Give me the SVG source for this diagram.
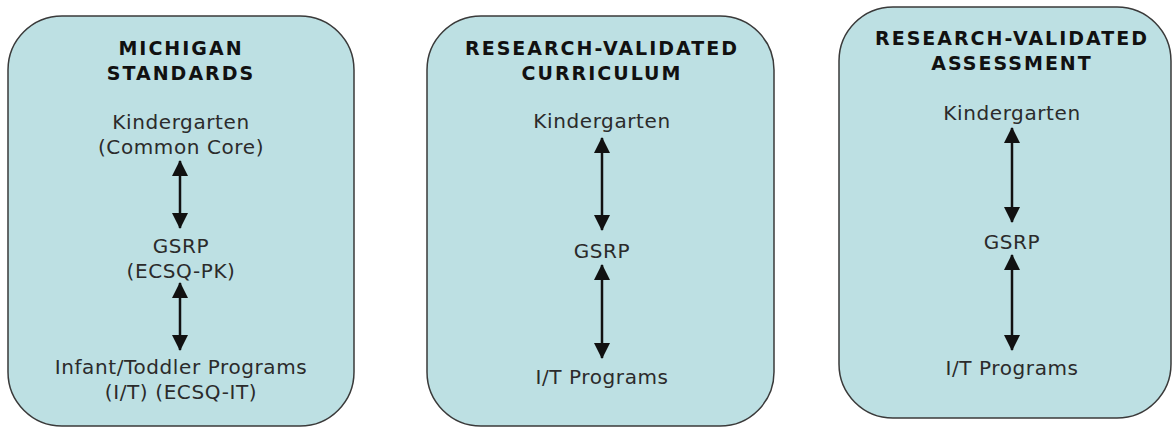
<svg xmlns="http://www.w3.org/2000/svg" width="1176" height="428" viewBox="0 0 1176 428">
<defs>
<marker id="ah" viewBox="0 0 16 16" refX="15" refY="8" markerWidth="16" markerHeight="16" markerUnits="userSpaceOnUse" orient="auto-start-reverse">
<path d="M0,0 L16,8 L0,16 Z" fill="#111"/>
</marker>
<style>
.box{fill:#bde0e3;stroke:#3a3a3a;stroke-width:1.5}
.t{font-family:"DejaVu Sans","Verdana",sans-serif;font-size:19px;font-weight:bold;fill:#111;text-anchor:middle;letter-spacing:2px}
.l{font-family:"DejaVu Sans","Verdana",sans-serif;font-size:20px;fill:#2b2b2b;text-anchor:middle;letter-spacing:0.6px}
.c{stroke:#111;stroke-width:2.5;fill:none;marker-start:url(#ah);marker-end:url(#ah)}
</style>
</defs>
<rect width="1176" height="428" fill="#ffffff"/>
<g id="node-michigan">
<rect class="box" x="8" y="16" width="346" height="410" rx="54" ry="54"/>
<text class="t" x="181" y="55">MICHIGAN</text>
<text class="t" x="181" y="80">STANDARDS</text>
<text class="l" x="181" y="129">Kindergarten</text>
<text class="l" x="181" y="154">(Common Core)</text>
<text class="l" x="181" y="253">GSRP</text>
<text class="l" x="181" y="278">(ECSQ-PK)</text>
<text class="l" x="181" y="374">Infant/Toddler Programs</text>
<text class="l" x="181" y="399">(I/T) (ECSQ-IT)</text>
</g>
<g id="node-curriculum">
<rect class="box" x="427" y="16" width="347" height="410" rx="54" ry="54"/>
<text class="t" x="602" y="55">RESEARCH-VALIDATED</text>
<text class="t" x="602" y="80">CURRICULUM</text>
<text class="l" x="602" y="128">Kindergarten</text>
<text class="l" x="602" y="258">GSRP</text>
<text class="l" x="602" y="384">I/T Programs</text>
</g>
<g id="node-assessment">
<rect class="box" x="839" y="7" width="332" height="411" rx="54" ry="54"/>
<text class="t" x="1012" y="45">RESEARCH-VALIDATED</text>
<text class="t" x="1012" y="70">ASSESSMENT</text>
<text class="l" x="1012" y="120">Kindergarten</text>
<text class="l" x="1012" y="249">GSRP</text>
<text class="l" x="1012" y="375">I/T Programs</text>
</g>
<g id="connectors">
<line class="c" x1="180" y1="161" x2="180" y2="228"/>
<line class="c" x1="180" y1="283" x2="180" y2="350"/>
<line class="c" x1="602" y1="138" x2="602" y2="230"/>
<line class="c" x1="602" y1="265" x2="602" y2="358"/>
<line class="c" x1="1012" y1="128" x2="1012" y2="222"/>
<line class="c" x1="1012" y1="255" x2="1012" y2="350"/>
</g>
</svg>
